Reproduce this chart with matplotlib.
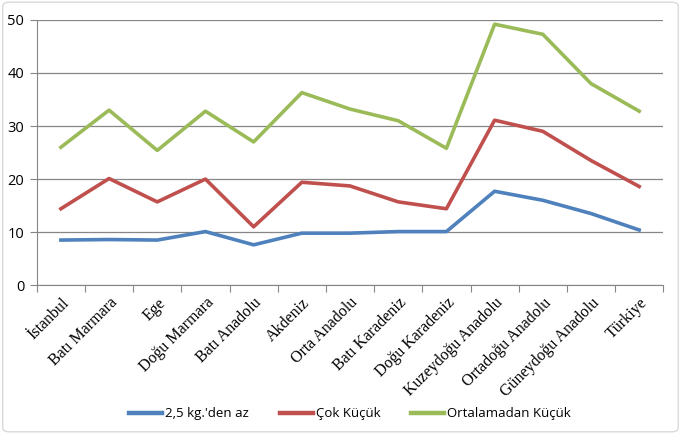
import numpy as np
import matplotlib
matplotlib.use("Agg")
import matplotlib.pyplot as plt
from matplotlib.patches import FancyBboxPatch

regions = ["İstanbul", "Batı Marmara", "Ege", "Doğu Marmara", "Batı Anadolu",
           "Akdeniz", "Orta Anadolu", "Batı Karadeniz", "Doğu Karadeniz",
           "Kuzeydoğu Anadolu", "Ortadoğu Anadolu", "Güneydoğu Anadolu", "Türkiye"]
az_25 = [8.5, 8.6, 8.5, 10.1, 7.6, 9.8, 9.8, 10.1, 10.1, 17.7, 16.0, 13.5, 10.4]
cok_kucuk = [14.4, 20.1, 15.7, 20.0, 11.0, 19.4, 18.7, 15.7, 14.4, 31.1, 29.0, 23.5, 18.6]
ort_kucuk = [26.0, 33.0, 25.4, 32.8, 27.0, 36.3, 33.2, 31.0, 25.8, 49.2, 47.3, 38.0, 32.8]
labels = ["2,5 kg.'den az", "Çok Küçük", "Ortalamadan Küçük"]
colors = ["#4F81BD", "#C0504D", "#9BBB59"]

fig = plt.figure(figsize=(6.81, 4.34), dpi=100)
ax = fig.add_axes([0.054, 0.343, 0.920, 0.611])

x = np.arange(len(regions))
for vals, lab, col in zip([az_25, cok_kucuk, ort_kucuk], labels, colors):
    ax.plot(x, vals, color=col, lw=2.6, label=lab, solid_joinstyle="round")

ax.set_xlim(-0.5, len(regions) - 0.5)
ax.set_ylim(0, 50)
ax.set_yticks(range(0, 51, 10))
ax.yaxis.grid(True, color="#868686", lw=0.9)
ax.set_axisbelow(True)
for s in ["top", "right"]:
    ax.spines[s].set_visible(False)
ax.spines["left"].set_color("#868686")
ax.spines["bottom"].set_color("#868686")

ax.set_xticks(np.arange(-0.5, len(regions)), minor=False)
ax.set_xticklabels([])
ax.set_xticks(x, minor=True)
ax.set_xticklabels(regions, minor=True, rotation=45, ha="right", rotation_mode="anchor",
                   fontfamily="Liberation Serif", fontsize=11.5)
ax.tick_params(axis="x", which="minor", length=0, pad=7)
ax.tick_params(axis="x", which="major", length=5, color="#868686")
ax.tick_params(axis="y", length=5, color="#868686", labelsize=10.5, pad=4)
for t in ax.get_yticklabels():
    t.set_fontfamily("Open Sans")

leg = ax.legend(loc="center", bbox_to_anchor=(0.5, -0.485), ncol=3, frameon=False,
                prop={"family": "Open Sans", "size": 9.5}, handlelength=2.5,
                columnspacing=2.3, handletextpad=0.25)
for h in leg.get_lines():
    h.set_linewidth(3.2)

border = FancyBboxPatch((0.004, 0.005), 0.992, 0.99, boxstyle="round,pad=0,rounding_size=0.01",
                        transform=fig.transFigure, fill=False, ec="#D9D9D9", lw=1.0)
fig.patches.append(border)

fig.savefig("out.png", dpi=100)
